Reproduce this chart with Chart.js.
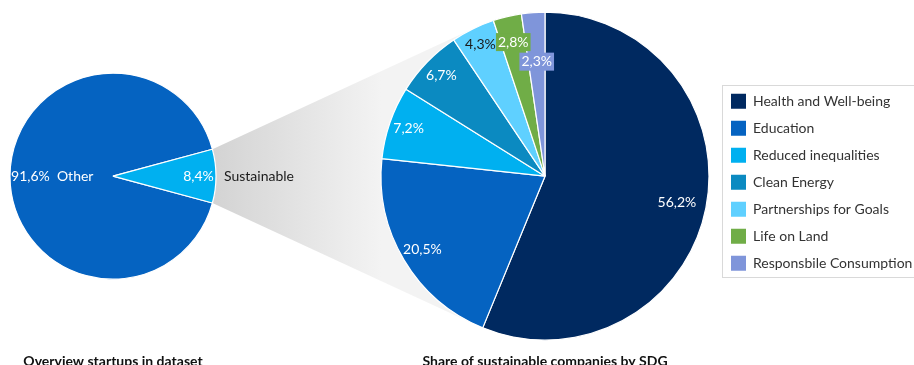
<!DOCTYPE html>
<html>
<head>
<meta charset="utf-8">
<script src="https://cdn.jsdelivr.net/npm/chart.js@4.4.1/dist/chart.umd.min.js"></script>
<style>
  html, body { margin: 0; padding: 0; background: #fff; }
  #wrap { position: relative; width: 914px; height: 365px; overflow: hidden; }
  #wrap canvas { position: absolute; left: 0; top: 0; }
</style>
</head>
<body>
<div id="wrap">
  <canvas id="sdg" width="940" height="380"></canvas>
  <canvas id="overview" width="330" height="380"></canvas>
</div>
<script>
// ---- data ----
const overviewCategories = ['Other', 'Sustainable'];
const overviewShares = [91.6, 8.4];

const sdgCategories = [
  'Health and Well-being',
  'Education',
  'Reduced inequalities',
  'Clean Energy',
  'Partnerships for Goals',
  'Life on Land',
  'Responsbile Consumption'
];
const sdgShares = [56.2, 20.5, 7.2, 6.7, 4.3, 2.8, 2.3];

const overviewTitle = 'Overview startups in dataset';
const sdgTitle = 'Share of sustainable companies by SDG';

// ---- styling ----
const overviewColors = ['#0563C1', '#00B0F0'];
const sdgColors = ['#002960', '#0563C1', '#00B0F0', '#0B8AC1', '#5FD0FF', '#70AD47', '#7F95DA'];

const FONT = 'Lato, "Open Sans", sans-serif';
const LABEL_FONT = '14px ' + FONT;
const TITLE_FONT = { family: FONT, size: 14, weight: 'bold', lineHeight: 1.2 };
const TITLE_PAD = { top: 14.5, bottom: 0 };
const fmtPct = v => v.toFixed(1).replace('.', ',') + '%';

// percentage labels placed inside each slice along its bisector
const sliceLabelPlugin = {
  id: 'sliceLabels',
  afterDatasetsDraw(chart, args, opts) {
    const ctx = chart.ctx;
    const ds = chart.data.datasets[0];
    const arcs = chart.getDatasetMeta(0).data;
    ctx.save();
    ctx.font = opts.font;
    ctx.textBaseline = 'middle';
    arcs.forEach((arc, i) => {
      const p = arc.getProps(['x', 'y', 'startAngle', 'endAngle', 'outerRadius'], true);
      const mid = (p.startAngle + p.endAngle) / 2;
      const r = p.outerRadius * opts.radius[i];
      const px = p.x + Math.cos(mid) * r;
      const py = p.y + Math.sin(mid) * r;
      let text = fmtPct(ds.data[i]);
      if (opts.name && opts.name[i] === 'inside') text += '  ' + chart.data.labels[i];
      const w = ctx.measureText(text).width;
      if (opts.boxed && opts.boxed[i]) {
        ctx.fillStyle = ds.backgroundColor[i];
        ctx.fillRect(px - w / 2 - 2, py - 9, w + 4, 18);
      }
      ctx.textAlign = 'center';
      ctx.fillStyle = opts.color[i];
      ctx.fillText(text, px, py);
      if (opts.name && opts.name[i] === 'outside') {
        ctx.textAlign = 'left';
        ctx.fillStyle = opts.nameColor;
        ctx.fillText(chart.data.labels[i], p.x + p.outerRadius + opts.nameGap, py);
      }
    });
    ctx.restore();
  }
};

// ---- overview pie ----
const overviewChart = new Chart(document.getElementById('overview'), {
  type: 'pie',
  data: {
    labels: overviewCategories,
    datasets: [{
      data: overviewShares,
      backgroundColor: overviewColors,
      borderColor: '#ffffff',
      borderWidth: 1.2,
      clip: false
    }]
  },
  options: {
    responsive: false,
    animation: false,
    events: [],
    // centre the "Sustainable" wedge on the 3 o'clock direction
    rotation: 90 + overviewShares[1] * 3.6 / 2,
    radius: 103,
    layout: { padding: { left: 8, right: 330 - 218, top: 14, bottom: 10.4 } },
    plugins: {
      legend: { display: false },
      tooltip: { enabled: false },
      title: {
        display: true,
        text: overviewTitle,
        position: 'bottom',
        fullSize: false,
        color: '#111',
        font: TITLE_FONT,
        padding: TITLE_PAD
      },
      sliceLabels: {
        font: LABEL_FONT,
        radius: [0.59, 0.83],
        color: ['#ffffff', '#ffffff'],
        name: ['inside', 'outside'],
        nameColor: '#1a1a1a',
        nameGap: 8
      }
    }
  },
  plugins: [sliceLabelPlugin]
});

// grey wedge linking the "Sustainable" slice to the SDG pie
const funnelPlugin = {
  id: 'funnel',
  beforeDatasetsDraw(chart) {
    const src = overviewChart.getDatasetMeta(0).data[1].getProps(['x', 'y', 'startAngle', 'endAngle', 'outerRadius'], true);
    const dst = chart.getDatasetMeta(0).data[0].getProps(['x', 'y', 'outerRadius'], true);
    const P1 = { x: src.x + src.outerRadius * Math.cos(src.startAngle), y: src.y + src.outerRadius * Math.sin(src.startAngle) };
    const P2 = { x: src.x + src.outerRadius * Math.cos(src.endAngle), y: src.y + src.outerRadius * Math.sin(src.endAngle) };
    const r = dst.outerRadius;
    const tangent = (P, sign) => {
      const dx = P.x - dst.x, dy = P.y - dst.y;
      const th = Math.atan2(dy, dx);
      const a = Math.acos(r / Math.hypot(dx, dy));
      return { x: dst.x + r * Math.cos(th + sign * a), y: dst.y + r * Math.sin(th + sign * a) };
    };
    const T1 = tangent(P1, 1);
    const T2 = tangent(P2, -1);
    const ctx = chart.ctx;
    ctx.save();
    const g = ctx.createLinearGradient(P1.x, 0, dst.x - r, 0);
    g.addColorStop(0, '#d3d3d3');
    g.addColorStop(1, '#f3f3f3');
    ctx.fillStyle = g;
    ctx.beginPath();
    ctx.moveTo(P1.x, P1.y);
    ctx.lineTo(T1.x, T1.y);
    ctx.lineTo(dst.x, dst.y);
    ctx.lineTo(T2.x, T2.y);
    ctx.lineTo(P2.x, P2.y);
    ctx.closePath();
    ctx.fill();
    ctx.restore();
  }
};

// thin frame around the legend entries
const legendFramePlugin = {
  id: 'legendFrame',
  afterDraw(chart) {
    const boxes = chart.legend.legendHitBoxes;
    if (!boxes || !boxes.length) return;
    const first = boxes[0], last = boxes[boxes.length - 1];
    const left = Math.round(first.left - 9) + 0.5;
    const top = Math.round(first.top - 8.5) + 0.5;
    const bottom = Math.round(last.top + last.height + 6.5) + 0.5;
    const ctx = chart.ctx;
    ctx.save();
    ctx.strokeStyle = '#d9d9d9';
    ctx.lineWidth = 1;
    ctx.strokeRect(left, top, chart.width, bottom - top);
    ctx.restore();
  }
};

// legend geometry: keep the SDG pie centred at x = 544
const SDG_CENTER_X = 544;
const LEGEND_LEFT = 717;
const LEGEND_PAD = 12;
const LEGEND_FONT_SIZE = 14;
const measure = document.createElement('canvas').getContext('2d');
measure.font = LEGEND_FONT_SIZE + 'px ' + FONT;
const widest = Math.max(...sdgCategories.map(t => measure.measureText(t).width));
const legendWidth = 2 * LEGEND_PAD + 15 + LEGEND_FONT_SIZE / 2 + widest;
const sdgCanvasWidth = 940;

// ---- SDG pie ----
new Chart(document.getElementById('sdg'), {
  type: 'pie',
  data: {
    labels: sdgCategories,
    datasets: [{
      data: sdgShares,
      backgroundColor: sdgColors,
      borderColor: '#ffffff',
      borderWidth: 1.2,
      clip: false
    }]
  },
  options: {
    responsive: false,
    animation: false,
    events: [],
    rotation: 0,
    radius: 164,
    layout: {
      padding: {
        left: 2 * SDG_CENTER_X - LEGEND_LEFT,
        right: sdgCanvasWidth - LEGEND_LEFT - legendWidth,
        top: 14,
        bottom: 10.4
      }
    },
    plugins: {
      tooltip: { enabled: false },
      legend: {
        position: 'right',
        align: 'center',
        fullSize: false,
        title: { display: true, text: '', font: { size: 10, lineHeight: 1.2 }, padding: 0 },
        labels: {
          boxWidth: 15,
          boxHeight: 15,
          padding: LEGEND_PAD,
          color: '#333333',
          font: { family: FONT, size: LEGEND_FONT_SIZE },
          generateLabels: (chart) =>
            Chart.overrides.doughnut.plugins.legend.labels.generateLabels(chart)
              .map(item => Object.assign(item, { lineWidth: 0 }))
        }
      },
      title: {
        display: true,
        text: sdgTitle,
        position: 'bottom',
        fullSize: false,
        color: '#111',
        font: TITLE_FONT,
        padding: TITLE_PAD
      },
      sliceLabels: {
        font: LABEL_FONT,
        radius: [0.82, 0.87, 0.88, 0.88, 0.895, 0.84, 0.70],
        color: ['#ffffff', '#ffffff', '#ffffff', '#ffffff', '#1a1a1a', '#ffffff', '#ffffff'],
        boxed: [false, false, false, false, false, true, true]
      }
    }
  },
  plugins: [funnelPlugin, sliceLabelPlugin, legendFramePlugin]
});
</script>
</body>
</html>
